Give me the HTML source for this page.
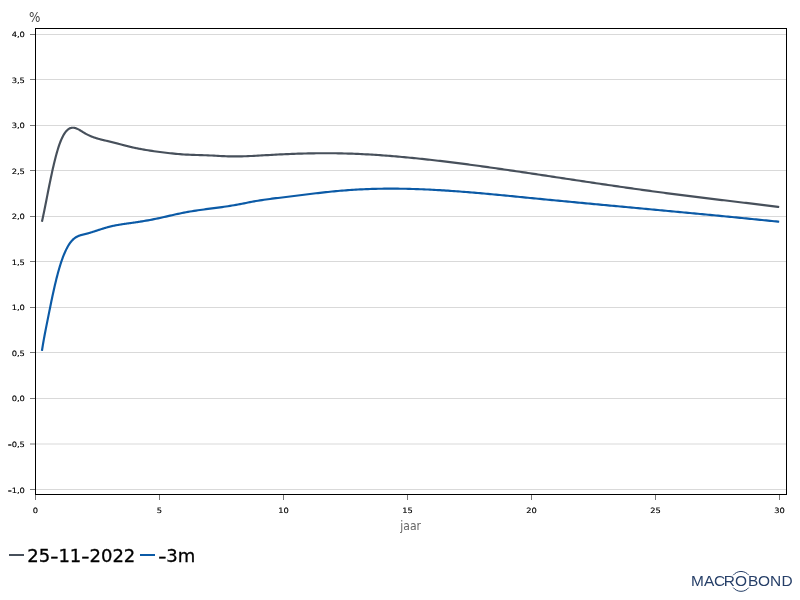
<!DOCTYPE html>
<html lang="nl"><head><meta charset="utf-8"><title>Chart</title>
<style>
html,body{margin:0;padding:0;background:#fff;}
body{width:800px;height:600px;overflow:hidden;}
svg{display:block;}
text{font-family:"DejaVu Sans","Liberation Sans",sans-serif;}
.t{font-size:7.3px;fill:#000;stroke:#000;stroke-width:0.15px;}
.g{stroke:#d9d9d9;stroke-width:1;}
.k{stroke:#777;stroke-width:1;}
</style></head><body>
<svg width="800" height="600" viewBox="0 0 800 600">
<rect width="800" height="600" fill="#fff"/>

<line class="g" x1="36" x2="786" y1="34.5" y2="34.5"/>
<line class="k" x1="30" x2="35" y1="34.5" y2="34.5"/>
<text class="t" transform="translate(24.9,37) scale(1.14,1)" text-anchor="end">4,0</text>
<line class="g" x1="36" x2="786" y1="79.5" y2="79.5"/>
<line class="k" x1="30" x2="35" y1="79.5" y2="79.5"/>
<text class="t" transform="translate(24.9,83) scale(1.14,1)" text-anchor="end">3,5</text>
<line class="g" x1="36" x2="786" y1="125.5" y2="125.5"/>
<line class="k" x1="30" x2="35" y1="125.5" y2="125.5"/>
<text class="t" transform="translate(24.9,128) scale(1.14,1)" text-anchor="end">3,0</text>
<line class="g" x1="36" x2="786" y1="170.5" y2="170.5"/>
<line class="k" x1="30" x2="35" y1="170.5" y2="170.5"/>
<text class="t" transform="translate(24.9,174) scale(1.14,1)" text-anchor="end">2,5</text>
<line class="g" x1="36" x2="786" y1="216.5" y2="216.5"/>
<line class="k" x1="30" x2="35" y1="216.5" y2="216.5"/>
<text class="t" transform="translate(24.9,219) scale(1.14,1)" text-anchor="end">2,0</text>
<line class="g" x1="36" x2="786" y1="261.5" y2="261.5"/>
<line class="k" x1="30" x2="35" y1="261.5" y2="261.5"/>
<text class="t" transform="translate(24.9,265) scale(1.14,1)" text-anchor="end">1,5</text>
<line class="g" x1="36" x2="786" y1="307.5" y2="307.5"/>
<line class="k" x1="30" x2="35" y1="307.5" y2="307.5"/>
<text class="t" transform="translate(24.9,310) scale(1.14,1)" text-anchor="end">1,0</text>
<line class="g" x1="36" x2="786" y1="352.5" y2="352.5"/>
<line class="k" x1="30" x2="35" y1="352.5" y2="352.5"/>
<text class="t" transform="translate(24.9,356) scale(1.14,1)" text-anchor="end">0,5</text>
<line class="g" x1="36" x2="786" y1="398.5" y2="398.5"/>
<line class="k" x1="30" x2="35" y1="398.5" y2="398.5"/>
<text class="t" transform="translate(24.9,401) scale(1.14,1)" text-anchor="end">0,0</text>
<line class="g" x1="36" x2="786" y1="444.0" y2="444.0"/>
<line class="k" x1="30" x2="35" y1="444.0" y2="444.0"/>
<text class="t" transform="translate(24.9,447) scale(1.14,1)" text-anchor="end"><tspan textLength="3.2" lengthAdjust="spacingAndGlyphs" stroke-width="0.55">-</tspan>0,5</text>
<line class="g" x1="36" x2="786" y1="489.5" y2="489.5"/>
<line class="k" x1="30" x2="35" y1="489.5" y2="489.5"/>
<text class="t" transform="translate(24.9,493) scale(1.14,1)" text-anchor="end"><tspan textLength="3.2" lengthAdjust="spacingAndGlyphs" stroke-width="0.55">-</tspan>1,0</text>
<line class="k" x1="35.5" x2="35.5" y1="495" y2="500"/>
<text class="t" transform="translate(35.5,513) scale(1.14,1)" text-anchor="middle">0</text>
<line class="k" x1="159.5" x2="159.5" y1="495" y2="500"/>
<text class="t" transform="translate(159.5,513) scale(1.14,1)" text-anchor="middle">5</text>
<line class="k" x1="283.5" x2="283.5" y1="495" y2="500"/>
<text class="t" transform="translate(283.5,513) scale(1.14,1)" text-anchor="middle">10</text>
<line class="k" x1="407.5" x2="407.5" y1="495" y2="500"/>
<text class="t" transform="translate(407.5,513) scale(1.14,1)" text-anchor="middle">15</text>
<line class="k" x1="531.5" x2="531.5" y1="495" y2="500"/>
<text class="t" transform="translate(531.5,513) scale(1.14,1)" text-anchor="middle">20</text>
<line class="k" x1="655.5" x2="655.5" y1="495" y2="500"/>
<text class="t" transform="translate(655.5,513) scale(1.14,1)" text-anchor="middle">25</text>
<line class="k" x1="779.5" x2="779.5" y1="495" y2="500"/>
<text class="t" transform="translate(779.5,513) scale(1.14,1)" text-anchor="middle">30</text>
<rect x="35.5" y="28.5" width="751" height="466" fill="none" stroke="#000" stroke-width="1" shape-rendering="crispEdges"/>
<path d="M41.92,221.80 L42.42,219.53 L42.92,217.21 L43.42,214.83 L43.92,212.42 L44.42,209.96 L44.92,207.48 L45.42,204.97 L45.92,202.45 L46.42,199.92 L46.92,197.38 L47.42,194.85 L47.92,192.32 L48.42,189.81 L48.92,187.31 L49.42,184.83 L49.92,182.38 L50.42,179.95 L50.92,177.56 L51.42,175.20 L51.92,172.87 L52.42,170.59 L52.92,168.35 L53.42,166.17 L53.92,164.03 L54.42,161.95 L54.92,159.92 L55.42,157.96 L55.92,156.05 L56.42,154.20 L56.92,152.41 L57.42,150.69 L57.92,149.03 L58.42,147.43 L58.92,145.91 L59.42,144.45 L59.92,143.07 L60.42,141.75 L60.92,140.50 L61.42,139.33 L61.92,138.21 L62.42,137.17 L62.92,136.19 L63.42,135.26 L63.92,134.41 L64.42,133.61 L64.92,132.86 L65.42,132.18 L65.92,131.55 L66.42,130.97 L66.92,130.45 L67.42,129.97 L67.92,129.55 L68.42,129.17 L68.92,128.84 L69.42,128.56 L69.92,128.32 L70.42,128.12 L70.92,127.96 L71.42,127.84 L71.92,127.76 L72.42,127.71 L72.92,127.70 L73.42,127.72 L73.92,127.78 L74.42,127.86 L74.92,127.97 L75.42,128.11 L75.92,128.27 L76.42,128.45 L76.92,128.66 L77.42,128.88 L77.92,129.12 L78.42,129.37 L78.92,129.64 L79.42,129.92 L79.92,130.21 L80.42,130.51 L80.92,130.82 L81.42,131.13 L81.92,131.44 L82.42,131.76 L82.92,132.07 L83.42,132.38 L83.92,132.69 L84.42,132.99 L84.92,133.28 L85.42,133.57 L85.92,133.85 L86.42,134.12 L86.92,134.38 L87.42,134.64 L87.92,134.89 L88.42,135.13 L88.92,135.37 L89.42,135.59 L89.92,135.82 L90.42,136.03 L90.92,136.24 L91.42,136.45 L91.92,136.65 L92.42,136.84 L92.92,137.03 L93.42,137.21 L93.92,137.39 L94.42,137.56 L94.92,137.73 L95.42,137.89 L95.92,138.05 L96.42,138.21 L96.92,138.36 L97.42,138.51 L97.92,138.66 L98.42,138.80 L98.92,138.94 L99.42,139.08 L99.92,139.21 L100.42,139.34 L100.92,139.47 L101.42,139.60 L101.92,139.72 L102.42,139.85 L102.92,139.97 L103.42,140.09 L103.92,140.21 L104.42,140.33 L104.92,140.45 L105.42,140.56 L105.92,140.68 L106.42,140.80 L106.92,140.91 L107.42,141.03 L107.92,141.15 L108.42,141.27 L108.92,141.38 L109.42,141.50 L109.92,141.62 L110.42,141.75 L110.92,141.87 L111.42,141.99 L111.92,142.12 L112.42,142.24 L112.92,142.37 L113.42,142.49 L113.92,142.62 L114.42,142.75 L114.92,142.88 L115.42,143.01 L115.92,143.14 L116.42,143.27 L116.92,143.40 L117.42,143.53 L117.92,143.66 L118.42,143.79 L118.92,143.92 L119.42,144.05 L119.92,144.18 L120.42,144.32 L120.92,144.45 L121.42,144.58 L121.92,144.71 L122.42,144.84 L122.92,144.97 L123.42,145.10 L123.92,145.23 L124.42,145.36 L124.92,145.49 L125.42,145.62 L125.92,145.75 L126.42,145.88 L126.92,146.00 L127.42,146.13 L127.92,146.25 L128.42,146.38 L128.92,146.50 L129.42,146.62 L129.92,146.75 L130.42,146.87 L130.92,146.99 L131.42,147.10 L131.92,147.22 L132.42,147.34 L132.92,147.45 L133.42,147.56 L133.92,147.68 L134.42,147.79 L134.92,147.90 L135.42,148.00 L135.92,148.11 L136.42,148.21 L136.92,148.32 L137.42,148.42 L137.92,148.52 L138.42,148.62 L138.92,148.72 L139.42,148.81 L139.92,148.91 L140.00,148.92 L142.00,149.29 L144.00,149.64 L146.00,149.98 L148.00,150.30 L150.00,150.61 L152.00,150.90 L154.00,151.19 L156.00,151.46 L158.00,151.73 L160.00,152.00 L162.00,152.26 L164.00,152.51 L166.00,152.76 L168.00,153.00 L170.00,153.22 L172.00,153.44 L174.00,153.65 L176.00,153.84 L178.00,154.03 L180.00,154.19 L182.00,154.34 L184.00,154.48 L186.00,154.59 L188.00,154.69 L190.00,154.78 L192.00,154.86 L194.00,154.93 L196.00,154.99 L198.00,155.05 L200.00,155.11 L202.00,155.17 L204.00,155.23 L206.00,155.29 L208.00,155.37 L210.00,155.45 L212.00,155.55 L214.00,155.65 L216.00,155.75 L218.00,155.85 L220.00,155.96 L222.00,156.06 L224.00,156.15 L226.00,156.23 L228.00,156.31 L230.00,156.37 L232.00,156.41 L234.00,156.44 L236.00,156.44 L238.00,156.43 L240.00,156.40 L242.00,156.35 L244.00,156.29 L246.00,156.22 L248.00,156.14 L250.00,156.05 L252.00,155.95 L254.00,155.84 L256.00,155.74 L258.00,155.63 L260.00,155.51 L262.00,155.40 L264.00,155.29 L266.00,155.18 L268.00,155.06 L270.00,154.95 L272.00,154.84 L274.00,154.74 L276.00,154.63 L278.00,154.53 L280.00,154.43 L282.00,154.33 L284.00,154.24 L286.00,154.15 L288.00,154.06 L290.00,153.98 L292.00,153.90 L294.00,153.82 L296.00,153.75 L298.00,153.69 L300.00,153.63 L302.00,153.57 L304.00,153.51 L306.00,153.46 L308.00,153.42 L310.00,153.38 L312.00,153.34 L314.00,153.31 L316.00,153.29 L318.00,153.27 L320.00,153.25 L322.00,153.24 L324.00,153.23 L326.00,153.23 L328.00,153.23 L330.00,153.24 L332.00,153.25 L334.00,153.27 L336.00,153.30 L338.00,153.33 L340.00,153.36 L342.00,153.40 L344.00,153.45 L346.00,153.50 L348.00,153.56 L350.00,153.62 L352.00,153.69 L354.00,153.77 L356.00,153.84 L358.00,153.93 L360.00,154.02 L362.00,154.11 L364.00,154.21 L366.00,154.32 L368.00,154.43 L370.00,154.54 L372.00,154.66 L374.00,154.79 L376.00,154.91 L378.00,155.05 L380.00,155.18 L382.00,155.32 L384.00,155.47 L386.00,155.62 L388.00,155.77 L390.00,155.93 L392.00,156.09 L394.00,156.26 L396.00,156.42 L398.00,156.60 L400.00,156.77 L402.00,156.95 L404.00,157.13 L406.00,157.32 L408.00,157.51 L410.00,157.70 L412.00,157.90 L414.00,158.09 L416.00,158.30 L418.00,158.50 L420.00,158.71 L422.00,158.92 L424.00,159.13 L426.00,159.35 L428.00,159.56 L430.00,159.79 L432.00,160.01 L434.00,160.24 L436.00,160.46 L438.00,160.70 L440.00,160.93 L442.00,161.17 L444.00,161.40 L446.00,161.65 L448.00,161.89 L450.00,162.13 L452.00,162.38 L454.00,162.63 L456.00,162.88 L458.00,163.14 L460.00,163.39 L462.00,163.65 L464.00,163.91 L466.00,164.17 L468.00,164.44 L470.00,164.70 L472.00,164.97 L474.00,165.24 L476.00,165.51 L478.00,165.78 L480.00,166.06 L482.00,166.33 L484.00,166.61 L486.00,166.89 L488.00,167.17 L490.00,167.45 L492.00,167.73 L494.00,168.01 L496.00,168.30 L498.00,168.58 L500.00,168.87 L502.00,169.16 L504.00,169.45 L506.00,169.74 L508.00,170.03 L510.00,170.32 L512.00,170.61 L514.00,170.91 L516.00,171.20 L518.00,171.50 L520.00,171.79 L522.00,172.09 L524.00,172.39 L526.00,172.68 L528.00,172.98 L530.00,173.28 L532.00,173.58 L534.00,173.88 L536.00,174.18 L538.00,174.48 L540.00,174.78 L542.00,175.08 L544.00,175.38 L546.00,175.68 L548.00,175.98 L550.00,176.28 L552.00,176.59 L554.00,176.89 L556.00,177.19 L558.00,177.49 L560.00,177.79 L562.00,178.09 L564.00,178.40 L566.00,178.70 L568.00,179.00 L570.00,179.30 L572.00,179.60 L574.00,179.90 L576.00,180.20 L578.00,180.50 L580.00,180.80 L582.00,181.10 L584.00,181.40 L586.00,181.70 L588.00,182.00 L590.00,182.30 L592.00,182.60 L594.00,182.90 L596.00,183.19 L598.00,183.49 L600.00,183.79 L602.00,184.08 L604.00,184.38 L606.00,184.67 L608.00,184.96 L610.00,185.26 L612.00,185.55 L614.00,185.84 L616.00,186.13 L618.00,186.42 L620.00,186.71 L622.00,187.00 L624.00,187.28 L626.00,187.57 L628.00,187.86 L630.00,188.14 L632.00,188.42 L634.00,188.71 L636.00,188.99 L638.00,189.27 L640.00,189.55 L642.00,189.82 L644.00,190.10 L646.00,190.38 L648.00,190.65 L650.00,190.92 L652.00,191.20 L654.00,191.47 L656.00,191.74 L658.00,192.00 L660.00,192.27 L662.00,192.54 L664.00,192.80 L666.00,193.06 L668.00,193.32 L670.00,193.58 L672.00,193.84 L674.00,194.10 L676.00,194.36 L678.00,194.62 L680.00,194.87 L682.00,195.13 L684.00,195.38 L686.00,195.63 L688.00,195.88 L690.00,196.13 L692.00,196.38 L694.00,196.63 L696.00,196.88 L698.00,197.13 L700.00,197.38 L702.00,197.62 L704.00,197.87 L706.00,198.11 L708.00,198.36 L710.00,198.60 L712.00,198.85 L714.00,199.09 L716.00,199.33 L718.00,199.57 L720.00,199.82 L722.00,200.06 L724.00,200.30 L726.00,200.54 L728.00,200.78 L730.00,201.02 L732.00,201.26 L734.00,201.50 L736.00,201.74 L738.00,201.98 L740.00,202.22 L742.00,202.46 L744.00,202.70 L746.00,202.94 L748.00,203.18 L750.00,203.42 L752.00,203.66 L754.00,203.90 L756.00,204.14 L758.00,204.38 L760.00,204.62 L762.00,204.87 L764.00,205.11 L766.00,205.35 L768.00,205.59 L770.00,205.84 L772.00,206.08 L774.00,206.32 L776.00,206.57 L778.00,206.81 L779.20,206.96" fill="none" stroke="#47505b" stroke-width="2.15" stroke-linejoin="round"/>
<path d="M41.92,350.90 L42.42,347.72 L42.92,344.68 L43.42,341.75 L43.92,338.92 L44.42,336.19 L44.92,333.53 L45.42,330.93 L45.92,328.38 L46.42,325.87 L46.92,323.37 L47.42,320.88 L47.92,318.39 L48.42,315.89 L48.92,313.40 L49.42,310.91 L49.92,308.43 L50.42,305.96 L50.92,303.51 L51.42,301.08 L51.92,298.68 L52.42,296.31 L52.92,293.98 L53.42,291.68 L53.92,289.43 L54.42,287.22 L54.92,285.06 L55.42,282.94 L55.92,280.88 L56.42,278.86 L56.92,276.88 L57.42,274.96 L57.92,273.09 L58.42,271.27 L58.92,269.50 L59.42,267.78 L59.92,266.12 L60.42,264.51 L60.92,262.95 L61.42,261.45 L61.92,260.00 L62.42,258.59 L62.92,257.24 L63.42,255.94 L63.92,254.68 L64.42,253.48 L64.92,252.32 L65.42,251.20 L65.92,250.14 L66.42,249.12 L66.92,248.14 L67.42,247.20 L67.92,246.31 L68.42,245.47 L68.92,244.66 L69.42,243.89 L69.92,243.17 L70.42,242.48 L70.92,241.83 L71.42,241.22 L71.92,240.65 L72.42,240.12 L72.92,239.62 L73.42,239.15 L73.92,238.72 L74.42,238.31 L74.92,237.94 L75.42,237.59 L75.92,237.27 L76.42,236.98 L76.92,236.70 L77.42,236.45 L77.92,236.22 L78.42,236.01 L78.92,235.81 L79.42,235.63 L79.92,235.46 L80.42,235.30 L80.92,235.15 L81.42,235.01 L81.92,234.88 L82.42,234.75 L82.92,234.63 L83.42,234.51 L83.92,234.39 L84.42,234.27 L84.92,234.15 L85.42,234.02 L85.92,233.89 L86.42,233.76 L86.92,233.62 L87.42,233.49 L87.92,233.35 L88.42,233.20 L88.92,233.06 L89.42,232.91 L89.92,232.76 L90.42,232.61 L90.92,232.46 L91.42,232.31 L91.92,232.15 L92.42,232.00 L92.92,231.84 L93.42,231.68 L93.92,231.52 L94.42,231.36 L94.92,231.20 L95.42,231.03 L95.92,230.87 L96.42,230.71 L96.92,230.55 L97.42,230.38 L97.92,230.22 L98.42,230.06 L98.92,229.89 L99.42,229.73 L99.92,229.57 L100.42,229.41 L100.92,229.25 L101.42,229.09 L101.92,228.93 L102.42,228.77 L102.92,228.61 L103.42,228.46 L103.92,228.30 L104.42,228.15 L104.92,228.00 L105.42,227.85 L105.92,227.71 L106.42,227.56 L106.92,227.42 L107.42,227.28 L107.92,227.14 L108.42,227.01 L108.92,226.88 L109.42,226.75 L109.92,226.62 L110.42,226.50 L110.92,226.38 L111.42,226.26 L111.92,226.14 L112.42,226.03 L112.92,225.92 L113.42,225.81 L113.92,225.71 L114.42,225.61 L114.92,225.51 L115.42,225.41 L115.92,225.31 L116.42,225.22 L116.92,225.12 L117.42,225.03 L117.92,224.94 L118.42,224.86 L118.92,224.77 L119.42,224.69 L119.92,224.60 L120.42,224.52 L120.92,224.44 L121.42,224.36 L121.92,224.29 L122.42,224.21 L122.92,224.14 L123.42,224.06 L123.92,223.99 L124.42,223.92 L124.92,223.84 L125.42,223.77 L125.92,223.70 L126.42,223.63 L126.92,223.56 L127.42,223.49 L127.92,223.43 L128.42,223.36 L128.92,223.29 L129.42,223.22 L129.92,223.15 L130.42,223.08 L130.92,223.02 L131.42,222.95 L131.92,222.88 L132.42,222.81 L132.92,222.74 L133.42,222.67 L133.92,222.60 L134.42,222.53 L134.92,222.45 L135.42,222.38 L135.92,222.31 L136.42,222.23 L136.92,222.16 L137.42,222.08 L137.92,222.01 L138.42,221.93 L138.92,221.85 L139.42,221.78 L139.92,221.70 L140.00,221.68 L142.00,221.36 L144.00,221.03 L146.00,220.68 L148.00,220.32 L150.00,219.95 L152.00,219.57 L154.00,219.18 L156.00,218.77 L158.00,218.36 L160.00,217.93 L162.00,217.49 L164.00,217.04 L166.00,216.58 L168.00,216.12 L170.00,215.66 L172.00,215.21 L174.00,214.75 L176.00,214.30 L178.00,213.86 L180.00,213.44 L182.00,213.02 L184.00,212.63 L186.00,212.25 L188.00,211.89 L190.00,211.54 L192.00,211.21 L194.00,210.89 L196.00,210.59 L198.00,210.29 L200.00,210.01 L202.00,209.73 L204.00,209.46 L206.00,209.19 L208.00,208.93 L210.00,208.67 L212.00,208.41 L214.00,208.15 L216.00,207.89 L218.00,207.62 L220.00,207.35 L222.00,207.08 L224.00,206.79 L226.00,206.50 L228.00,206.20 L230.00,205.89 L232.00,205.56 L234.00,205.22 L236.00,204.86 L238.00,204.49 L240.00,204.11 L242.00,203.73 L244.00,203.34 L246.00,202.95 L248.00,202.56 L250.00,202.17 L252.00,201.79 L254.00,201.42 L256.00,201.06 L258.00,200.71 L260.00,200.39 L262.00,200.07 L264.00,199.77 L266.00,199.49 L268.00,199.21 L270.00,198.95 L272.00,198.69 L274.00,198.44 L276.00,198.19 L278.00,197.95 L280.00,197.71 L282.00,197.47 L284.00,197.23 L286.00,196.98 L288.00,196.74 L290.00,196.49 L292.00,196.24 L294.00,195.99 L296.00,195.75 L298.00,195.50 L300.00,195.25 L302.00,195.00 L304.00,194.75 L306.00,194.51 L308.00,194.26 L310.00,194.02 L312.00,193.78 L314.00,193.54 L316.00,193.30 L318.00,193.07 L320.00,192.84 L322.00,192.62 L324.00,192.39 L326.00,192.18 L328.00,191.96 L330.00,191.76 L332.00,191.55 L334.00,191.36 L336.00,191.17 L338.00,190.98 L340.00,190.80 L342.00,190.63 L344.00,190.47 L346.00,190.31 L348.00,190.16 L350.00,190.02 L352.00,189.89 L354.00,189.76 L356.00,189.64 L358.00,189.53 L360.00,189.42 L362.00,189.32 L364.00,189.23 L366.00,189.15 L368.00,189.07 L370.00,189.00 L372.00,188.94 L374.00,188.88 L376.00,188.83 L378.00,188.78 L380.00,188.75 L382.00,188.72 L384.00,188.69 L386.00,188.67 L388.00,188.66 L390.00,188.65 L392.00,188.65 L394.00,188.65 L396.00,188.66 L398.00,188.68 L400.00,188.70 L402.00,188.73 L404.00,188.76 L406.00,188.80 L408.00,188.84 L410.00,188.89 L412.00,188.95 L414.00,189.00 L416.00,189.07 L418.00,189.14 L420.00,189.21 L422.00,189.29 L424.00,189.37 L426.00,189.46 L428.00,189.55 L430.00,189.65 L432.00,189.75 L434.00,189.85 L436.00,189.96 L438.00,190.07 L440.00,190.19 L442.00,190.31 L444.00,190.43 L446.00,190.56 L448.00,190.69 L450.00,190.83 L452.00,190.97 L454.00,191.11 L456.00,191.25 L458.00,191.40 L460.00,191.55 L462.00,191.70 L464.00,191.86 L466.00,192.01 L468.00,192.18 L470.00,192.34 L472.00,192.51 L474.00,192.67 L476.00,192.84 L478.00,193.02 L480.00,193.19 L482.00,193.37 L484.00,193.55 L486.00,193.73 L488.00,193.91 L490.00,194.09 L492.00,194.28 L494.00,194.46 L496.00,194.65 L498.00,194.84 L500.00,195.03 L502.00,195.22 L504.00,195.41 L506.00,195.61 L508.00,195.80 L510.00,195.99 L512.00,196.19 L514.00,196.38 L516.00,196.58 L518.00,196.78 L520.00,196.97 L522.00,197.17 L524.00,197.37 L526.00,197.56 L528.00,197.76 L530.00,197.95 L532.00,198.15 L534.00,198.34 L536.00,198.54 L538.00,198.73 L540.00,198.93 L542.00,199.12 L544.00,199.32 L546.00,199.51 L548.00,199.70 L550.00,199.89 L552.00,200.09 L554.00,200.28 L556.00,200.47 L558.00,200.66 L560.00,200.85 L562.00,201.04 L564.00,201.23 L566.00,201.42 L568.00,201.61 L570.00,201.80 L572.00,201.99 L574.00,202.18 L576.00,202.37 L578.00,202.56 L580.00,202.75 L582.00,202.94 L584.00,203.13 L586.00,203.31 L588.00,203.50 L590.00,203.69 L592.00,203.88 L594.00,204.06 L596.00,204.25 L598.00,204.44 L600.00,204.62 L602.00,204.81 L604.00,205.00 L606.00,205.18 L608.00,205.37 L610.00,205.56 L612.00,205.74 L614.00,205.93 L616.00,206.12 L618.00,206.30 L620.00,206.49 L622.00,206.67 L624.00,206.86 L626.00,207.05 L628.00,207.23 L630.00,207.42 L632.00,207.60 L634.00,207.79 L636.00,207.98 L638.00,208.16 L640.00,208.35 L642.00,208.53 L644.00,208.72 L646.00,208.90 L648.00,209.09 L650.00,209.28 L652.00,209.46 L654.00,209.65 L656.00,209.83 L658.00,210.02 L660.00,210.21 L662.00,210.39 L664.00,210.58 L666.00,210.77 L668.00,210.95 L670.00,211.14 L672.00,211.33 L674.00,211.51 L676.00,211.70 L678.00,211.89 L680.00,212.08 L682.00,212.27 L684.00,212.45 L686.00,212.64 L688.00,212.83 L690.00,213.02 L692.00,213.21 L694.00,213.40 L696.00,213.59 L698.00,213.78 L700.00,213.97 L702.00,214.16 L704.00,214.35 L706.00,214.54 L708.00,214.73 L710.00,214.92 L712.00,215.11 L714.00,215.30 L716.00,215.49 L718.00,215.69 L720.00,215.88 L722.00,216.07 L724.00,216.27 L726.00,216.46 L728.00,216.65 L730.00,216.85 L732.00,217.04 L734.00,217.24 L736.00,217.43 L738.00,217.63 L740.00,217.83 L742.00,218.02 L744.00,218.22 L746.00,218.42 L748.00,218.62 L750.00,218.81 L752.00,219.01 L754.00,219.21 L756.00,219.41 L758.00,219.61 L760.00,219.81 L762.00,220.02 L764.00,220.22 L766.00,220.42 L768.00,220.62 L770.00,220.83 L772.00,221.03 L774.00,221.23 L776.00,221.44 L778.00,221.65 L779.20,221.77" fill="none" stroke="#0b5aa6" stroke-width="2.15" stroke-linejoin="round"/>
<text transform="translate(29.1,21.7) scale(0.86,1)" font-size="14" fill="#444">%</text>
<text transform="translate(410.7,530) scale(0.86,1)" font-size="12.6" fill="#666" text-anchor="middle">jaar</text>
<line x1="9" x2="24" y1="555" y2="555" stroke="#47505b" stroke-width="2"/>
<text x="27.35" y="561.5" font-size="18" fill="#000" stroke="#000" stroke-width="0.3">25<tspan textLength="8.17" lengthAdjust="spacingAndGlyphs" stroke-width="0.45">-</tspan>11<tspan textLength="8.17" lengthAdjust="spacingAndGlyphs" stroke-width="0.45">-</tspan>2022</text>
<line x1="140" x2="155" y1="555" y2="555" stroke="#0b5aa6" stroke-width="2"/>
<text x="158.2" y="561.5" font-size="18" fill="#000" stroke="#000" stroke-width="0.3"><tspan textLength="8.17" lengthAdjust="spacingAndGlyphs" stroke-width="0.45">-</tspan>3m</text>
<text transform="scale(1.12,1)" x="616.93 628.52 637.52 646.20 656.34 667.88 676.78 687.42 697.82" y="586.3" font-size="13.8" fill="#263f68" style="font-family:'Liberation Sans',sans-serif">MACROBOND</text>
<path d="M733.25,575.2 A9.9,9.9 0 0 1 748.75,575.2" fill="none" stroke="#263f68" stroke-width="1"/>
<path d="M733.25,587.6 A9.9,9.9 0 0 0 748.75,587.6" fill="none" stroke="#263f68" stroke-width="1"/>
</svg></body></html>
